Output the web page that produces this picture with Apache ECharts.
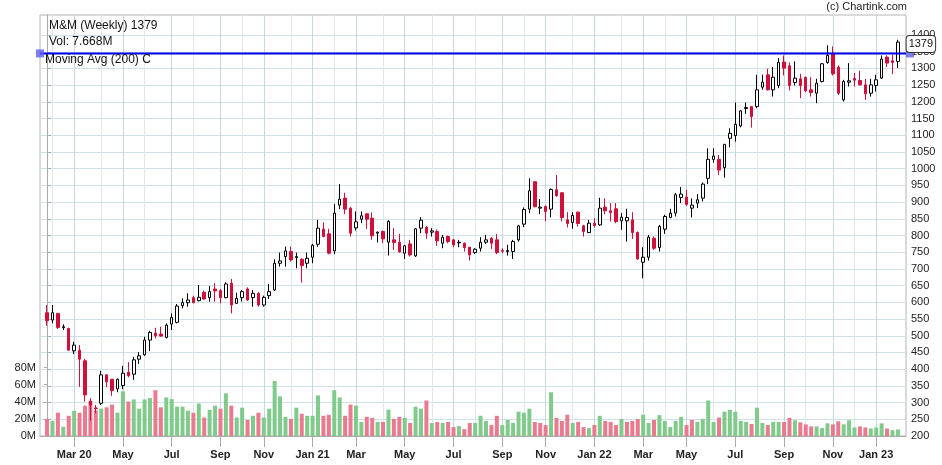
<!DOCTYPE html>
<html>
<head>
<meta charset="utf-8">
<title>M&amp;M (Weekly)</title>
<script src="https://cdn.jsdelivr.net/npm/echarts@6.0.0/dist/echarts.min.js"></script>
<style>
  html, body { margin: 0; padding: 0; background: #fff; }
  #chart { width: 942px; height: 465px; }
</style>
</head>
<body>
<div id="chart"></div>
<script>
var symbolName = 'M&M';
var firstWeek = '2020-01-27';   // monday of the first weekly candle
var monthNames = ['Jan', 'Feb', 'Mar', 'Apr', 'May', 'Jun', 'Jul', 'Aug', 'Sep', 'Oct', 'Nov', 'Dec'];

// weekly prices
var open = [569,547,567,524,522,455,457,425,303,284,
  298,383,370,341,351,391,385,430,443,487,
  508,505,495,535,540,590,599,614,605,630,
  614,640,635,614,657,597,614,640,614,627,
  592,620,637,717,737,752,734,729,717,735,
  774,819,805,754,891,912,882,823,849,865,
  852,807,812,780,787,780,747,775,739,822,
  825,810,812,777,797,787,778,777,765,749,
  762,780,792,787,755,752,752,787,834,879,
  961,882,887,879,937,928,847,839,870,829,
  809,837,832,885,874,880,844,844,847,809,
  720,735,792,764,819,854,867,914,915,882,
  897,912,971,1028,1028,1003,1091,1099,1128,1180,
  1186,1186,1244,1281,1236,1249,1319,1308,1258,1269,
  1273,1236,1226,1261,1318,1346,1304,1206,1259,1270,
  1264,1251,1226,1249,1271,1334,1323,1321];
var high = [592,592,567,534,524,482,472,431,313,293,
  395,385,370,372,410,421,437,451,497,515,
  524,527,537,567,595,612,627,620,652,635,
  649,657,640,660,670,629,637,645,637,630,
  620,655,729,749,767,767,749,732,749,775,
  847,839,820,895,954,928,885,872,872,867,
  869,812,815,846,822,805,772,787,822,855,
  828,822,818,802,800,790,787,779,765,762,
  795,802,795,805,762,772,787,832,884,971,
  961,909,890,941,981,928,870,870,872,832,
  847,852,913,911,897,897,867,880,870,812,
  765,802,797,832,862,880,927,945,937,911,
  924,959,1061,1061,1041,1073,1121,1198,1176,1198,
  1188,1281,1281,1299,1304,1331,1339,1318,1321,1284,
  1276,1274,1269,1316,1369,1366,1309,1266,1316,1286,
  1293,1269,1269,1281,1339,1339,1341,1386];
var low = [530,537,520,517,456,445,347,303,246,268,
  293,346,320,331,340,376,368,416,440,454,
  492,497,492,517,537,582,587,597,603,608,
  602,602,597,612,567,595,602,605,587,587,
  587,610,634,707,707,722,702,659,702,717,
  766,795,744,744,879,864,797,815,837,820,
  787,779,777,740,757,749,730,737,736,807,
  790,797,769,762,777,765,765,752,725,745,
  752,775,760,744,747,740,730,782,825,867,
  885,864,842,854,916,842,824,820,827,797,
  807,824,829,864,842,837,817,782,790,728,
  672,725,757,752,805,852,857,897,889,854,
  882,902,954,1018,981,973,1064,1081,1124,1164,
  1123,1181,1236,1234,1216,1241,1279,1234,1249,1211,
  1229,1216,1196,1258,1314,1279,1221,1201,1246,1246,
  1249,1206,1216,1231,1269,1304,1283,1301];
var close = [545,569,525,527,457,472,430,323,293,282,
  383,362,336,370,388,380,428,440,487,510,
  500,499,532,555,589,600,607,599,615,610,
  632,634,614,655,592,612,632,607,627,592,
  615,632,717,724,754,727,737,710,732,771,
  822,797,747,867,909,879,807,841,859,849,
  799,810,790,842,779,751,769,742,820,846,
  807,814,784,795,782,772,780,764,742,759,
  780,787,777,749,753,755,782,829,878,934,
  886,885,872,938,919,854,836,860,836,812,
  837,830,882,874,869,842,855,854,809,730,
  735,795,762,827,857,867,922,924,893,891,
  907,954,1028,1038,996,1073,1106,1133,1173,1183,
  1156,1236,1259,1236,1274,1318,1301,1249,1271,1249,
  1233,1228,1256,1314,1339,1284,1226,1261,1263,1265,
  1251,1224,1251,1266,1328,1316,1318,1379];
// weekly volume, millions
var volume = [20.0,17.6,27.2,10.8,23.6,29.5,27.2,35.5,41.1,29.9,
  31.9,33.5,36.7,27.2,52.3,40.3,42.7,31.9,42.7,44.3,
  53.5,33.5,45.1,43.1,34.3,34.3,29.5,27.2,37.9,21.6,
  30.7,35.5,31.9,49.9,35.5,21.6,33.1,18.8,23.6,27.2,
  21.6,31.9,64.3,46.3,22.4,20.0,33.1,26.0,23.6,23.6,
  47.5,23.6,24.8,53.5,45.1,23.6,36.7,35.5,16.4,22.4,
  21.2,16.4,16.4,30.7,20.0,22.4,21.2,15.2,34.3,31.9,
  41.5,15.2,16.4,15.2,16.4,10.4,11.6,8.0,15.2,15.2,
  23.6,17.6,12.8,23.6,12.8,18.8,15.2,28.4,27.2,31.9,
  16.4,15.2,12.8,51.1,21.2,17.6,24.8,15.2,16.4,10.4,
  9.2,12.8,23.6,17.6,16.4,12.8,20.0,16.4,17.6,20.0,
  24.8,15.2,18.8,24.4,17.6,10.4,17.6,22.4,12.8,18.8,
  16.4,20.0,41.5,16.4,21.6,28.4,30.7,28.4,17.6,16.4,
  14.0,33.1,15.2,12.8,16.4,16.4,16.4,21.2,18.4,16.0,
  13.6,11.2,11.2,9.2,14.8,13.6,17.2,13.6,18.4,10.0,
  11.2,10.0,8.8,10.0,14.8,8.8,6.8,7.668];

var priceTicks = [200,250,300,350,400,450,500,550,600,650,700,750,800,850,900,950,
  1000,1050,1100,1150,1200,1250,1300,1350,1400];
var volumeTicks = [0, 20, 40, 60, 80];
var movingAvg = 1345;

var xMin = -1.3, xMax = 158.5;
var last = close.length - 1;

// month ticks = first weekly candle of each month
var weeks = [];
var d0 = new Date(firstWeek + 'T00:00:00Z');
for (var i = 0; i < close.length; i++) {
  weeks.push(new Date(d0.getTime() + i * 7 * 86400000));
}
var majorTicks = [], minorTicks = [], tickLabels = {};
var firstLabel = true;
for (i = 1; i < weeks.length; i++) {
  var m = weeks[i].getUTCMonth();
  if (m === weeks[i - 1].getUTCMonth()) continue;
  if (m % 2 === 0) {
    majorTicks.push(i);
    tickLabels[i] = monthNames[m] + ((m === 0 || firstLabel) ? ' ' + String(weeks[i].getUTCFullYear()).slice(2) : '');
    firstLabel = false;
  } else {
    minorTicks.push(i);
  }
}

var candles = [], vols = [];
for (i = 0; i < close.length; i++) {
  candles.push([i, open[i], close[i], low[i], high[i]]);
  var up = i === 0 ? close[i] >= open[i] : close[i] >= close[i - 1];
  vols.push({ value: [i, volume[i]], itemStyle: { color: up ? '#80cb8b' : '#e97a90' } });
}

var font = '"Liberation Sans", Arial, sans-serif';
var chart = echarts.init(document.getElementById('chart'));
chart.setOption({
  animation: false,
  backgroundColor: '#fff',
  textStyle: { fontFamily: font },
  grid: { left: 40, right: 36, top: 15, bottom: 29, show: true, borderColor: '#b4b4b4', borderWidth: 1 },
  xAxis: [{
    type: 'value', min: xMin, max: xMax, position: 'bottom',
    axisLine: { show: true, onZero: false, lineStyle: { color: '#aaa' } },
    axisTick: { show: false, customValues: minorTicks },
    axisLabel: { show: false },
    splitLine: { show: true, lineStyle: { color: '#dceaf0' } }
  }, {
    type: 'value', min: xMin, max: xMax, position: 'bottom',
    axisLine: { show: false, onZero: false },
    axisTick: { show: true, customValues: majorTicks, length: 11, lineStyle: { color: '#aaa' } },
    axisLabel: {
      customValues: majorTicks, margin: 13, fontSize: 11, fontWeight: 'bold', color: '#222',
      formatter: function (v) { return tickLabels[v] || ''; }
    },
    splitLine: { show: true, lineStyle: { color: '#c3d8e1' } }
  }],
  yAxis: [{
    type: 'value', position: 'left', min: 0, max: 492,
    axisLine: { show: true, lineStyle: { color: '#aaa' } },
    axisTick: { show: true, customValues: volumeTicks, length: 3, lineStyle: { color: '#aaa' } },
    axisLabel: { customValues: volumeTicks, formatter: '{value}M', fontSize: 11, color: '#222', margin: 4 },
    splitLine: { show: false }
  }, {
    type: 'value', position: 'right', min: 200, max: 1460,
    axisLine: { show: true, lineStyle: { color: '#aaa' } },
    axisTick: { show: true, customValues: priceTicks, length: 4, lineStyle: { color: '#aaa' } },
    axisLabel: {
      customValues: priceTicks, fontSize: 11, color: '#222', margin: 5,
      formatter: function (v) { return String(v); }
    },
    splitLine: { show: true, lineStyle: { color: '#cfe2e9' } }
  }],
  series: [{
    name: 'Volume', type: 'bar', xAxisIndex: 0, yAxisIndex: 0,
    barWidth: 4, data: vols
  }, {
    name: symbolName, type: 'candlestick', xAxisIndex: 0, yAxisIndex: 1,
    barWidth: 3, data: candles,
    itemStyle: {
      color: '#fff', color0: '#d0103a',
      borderColor: '#000', borderColor0: '#d0103a', borderColorDoji: '#000', borderWidth: 1
    },
    markPoint: {
      symbol: 'rect', symbolSize: 0, silent: true,
      data: [{ coord: [last, close[last]], value: close[last] }],
      label: {
        show: true, position: 'inside', offset: [23, 2], formatter: '{c}',
        fontSize: 11, color: '#111', backgroundColor: '#fff',
        borderColor: '#333', borderWidth: 1, borderRadius: 3, padding: [3, 2, 2, 2]
      }
    }
  }, {
    name: 'Moving Avg (200) C', type: 'line', xAxisIndex: 0, yAxisIndex: 1,
    clip: false, z: 4, symbol: 'rect', symbolSize: 8,
    itemStyle: { color: 'rgba(95,95,235,0.8)' },
    lineStyle: { color: '#0000ee', width: 2 },
    data: [[xMin, movingAvg], { value: [xMax, movingAvg], symbolOffset: [4, 0] }]
  }],
  graphic: [
    { type: 'text', left: 49, top: 20, z: 10, style: { text: symbolName + ' (Weekly) ' + close[last], font: '12px ' + font, fill: '#111' } },
    { type: 'text', left: 49, top: 36, z: 10, style: { text: 'Vol: ' + volume[last].toFixed(3) + 'M', font: '12px ' + font, fill: '#111' } },
    { type: 'text', left: 45, top: 54, z: 10, style: { text: 'Moving Avg (200) C', font: '12px ' + font, fill: '#111' } },
    { type: 'text', right: 35, top: 1, z: 10, style: { text: '(c) Chartink.com', font: '11px ' + font, fill: '#222' } }
  ]
});
</script>
</body>
</html>
